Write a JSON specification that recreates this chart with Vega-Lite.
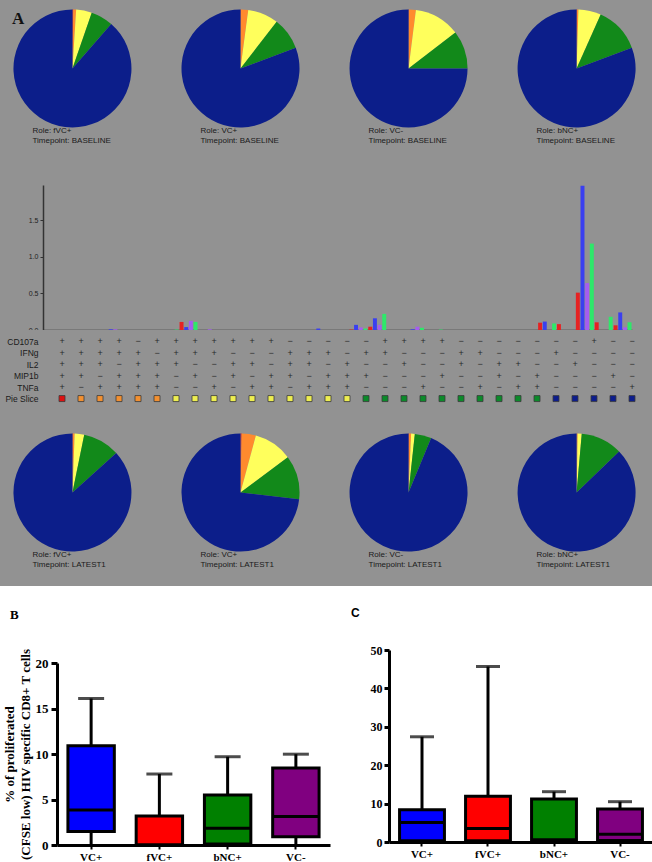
{
  "$schema": "https://vega.github.io/schema/vega-lite/v6.json",
  "padding": 0,
  "background": "#ffffff",
  "config": {"view": {"stroke": null}, "font": "Liberation Sans"},
  "resolve": {"scale": {"color": "independent"}},
  "datasets": {
    "pies": [
      {"tp": "BASELINE", "role": "fVC+", "slice": "five", "k": 1, "pct": 0.2},
      {"tp": "BASELINE", "role": "fVC+", "slice": "four", "k": 2, "pct": 0.8},
      {"tp": "BASELINE", "role": "fVC+", "slice": "three", "k": 3, "pct": 4.3},
      {"tp": "BASELINE", "role": "fVC+", "slice": "two", "k": 4, "pct": 6.1},
      {"tp": "BASELINE", "role": "fVC+", "slice": "one", "k": 5, "pct": 88.6},
      {"tp": "BASELINE", "role": "VC+", "slice": "five", "k": 1, "pct": 0.1},
      {"tp": "BASELINE", "role": "VC+", "slice": "four", "k": 2, "pct": 2.0},
      {"tp": "BASELINE", "role": "VC+", "slice": "three", "k": 3, "pct": 8.4},
      {"tp": "BASELINE", "role": "VC+", "slice": "two", "k": 4, "pct": 8.8},
      {"tp": "BASELINE", "role": "VC+", "slice": "one", "k": 5, "pct": 80.7},
      {"tp": "BASELINE", "role": "VC-", "slice": "five", "k": 1, "pct": 0.1},
      {"tp": "BASELINE", "role": "VC-", "slice": "four", "k": 2, "pct": 1.9},
      {"tp": "BASELINE", "role": "VC-", "slice": "three", "k": 3, "pct": 12.6},
      {"tp": "BASELINE", "role": "VC-", "slice": "two", "k": 4, "pct": 10.4},
      {"tp": "BASELINE", "role": "VC-", "slice": "one", "k": 5, "pct": 75.0},
      {"tp": "BASELINE", "role": "bNC+", "slice": "five", "k": 1, "pct": 0.1},
      {"tp": "BASELINE", "role": "bNC+", "slice": "four", "k": 2, "pct": 0.4},
      {"tp": "BASELINE", "role": "bNC+", "slice": "three", "k": 3, "pct": 6.2},
      {"tp": "BASELINE", "role": "bNC+", "slice": "two", "k": 4, "pct": 12.6},
      {"tp": "BASELINE", "role": "bNC+", "slice": "one", "k": 5, "pct": 80.7},
      {"tp": "LATEST1", "role": "fVC+", "slice": "five", "k": 1, "pct": 0.1},
      {"tp": "LATEST1", "role": "fVC+", "slice": "four", "k": 2, "pct": 0.5},
      {"tp": "LATEST1", "role": "fVC+", "slice": "three", "k": 3, "pct": 2.6},
      {"tp": "LATEST1", "role": "fVC+", "slice": "two", "k": 4, "pct": 10.1},
      {"tp": "LATEST1", "role": "fVC+", "slice": "one", "k": 5, "pct": 86.7},
      {"tp": "LATEST1", "role": "VC+", "slice": "five", "k": 1, "pct": 0.3},
      {"tp": "LATEST1", "role": "VC+", "slice": "four", "k": 2, "pct": 3.9},
      {"tp": "LATEST1", "role": "VC+", "slice": "three", "k": 3, "pct": 10.6},
      {"tp": "LATEST1", "role": "VC+", "slice": "two", "k": 4, "pct": 12.0},
      {"tp": "LATEST1", "role": "VC+", "slice": "one", "k": 5, "pct": 73.2},
      {"tp": "LATEST1", "role": "VC-", "slice": "five", "k": 1, "pct": 0.1},
      {"tp": "LATEST1", "role": "VC-", "slice": "four", "k": 2, "pct": 0.6},
      {"tp": "LATEST1", "role": "VC-", "slice": "three", "k": 3, "pct": 1.0},
      {"tp": "LATEST1", "role": "VC-", "slice": "two", "k": 4, "pct": 4.55},
      {"tp": "LATEST1", "role": "VC-", "slice": "one", "k": 5, "pct": 93.75},
      {"tp": "LATEST1", "role": "bNC+", "slice": "five", "k": 1, "pct": 0.05},
      {"tp": "LATEST1", "role": "bNC+", "slice": "four", "k": 2, "pct": 0.25},
      {"tp": "LATEST1", "role": "bNC+", "slice": "three", "k": 3, "pct": 1.1},
      {"tp": "LATEST1", "role": "bNC+", "slice": "two", "k": 4, "pct": 11.4},
      {"tp": "LATEST1", "role": "bNC+", "slice": "one", "k": 5, "pct": 87.2}
    ],
    "pieLabels": [
      {"tp": "BASELINE", "role": "fVC+", "label": "Role: fVC+\nTimepoint: BASELINE"},
      {"tp": "BASELINE", "role": "VC+", "label": "Role: VC+\nTimepoint: BASELINE"},
      {"tp": "BASELINE", "role": "VC-", "label": "Role: VC-\nTimepoint: BASELINE"},
      {"tp": "BASELINE", "role": "bNC+", "label": "Role: bNC+\nTimepoint: BASELINE"},
      {"tp": "LATEST1", "role": "fVC+", "label": "Role: fVC+\nTimepoint: LATEST1"},
      {"tp": "LATEST1", "role": "VC+", "label": "Role: VC+\nTimepoint: LATEST1"},
      {"tp": "LATEST1", "role": "VC-", "label": "Role: VC-\nTimepoint: LATEST1"},
      {"tp": "LATEST1", "role": "bNC+", "label": "Role: bNC+\nTimepoint: LATEST1"}
    ],
    "bars": [
      {"c": 4, "s": "VC+", "v": 0.01}, {"c": 4, "s": "VC-", "v": 0.01},
      {"c": 7, "s": "bNC+", "v": 0.006},
      {"c": 8, "s": "fVC+", "v": 0.11}, {"c": 8, "s": "VC+", "v": 0.04}, {"c": 8, "s": "VC-", "v": 0.125}, {"c": 8, "s": "bNC+", "v": 0.11},
      {"c": 9, "s": "VC-", "v": 0.01},
      {"c": 15, "s": "VC+", "v": 0.02},
      {"c": 17, "s": "fVC+", "v": 0.006}, {"c": 17, "s": "VC+", "v": 0.07}, {"c": 17, "s": "VC-", "v": 0.035}, {"c": 17, "s": "bNC+", "v": 0.02},
      {"c": 18, "s": "fVC+", "v": 0.045}, {"c": 18, "s": "VC+", "v": 0.16}, {"c": 18, "s": "VC-", "v": 0.07}, {"c": 18, "s": "bNC+", "v": 0.22},
      {"c": 20, "s": "VC+", "v": 0.01}, {"c": 20, "s": "VC-", "v": 0.045}, {"c": 20, "s": "bNC+", "v": 0.03},
      {"c": 21, "s": "bNC+", "v": 0.006},
      {"c": 27, "s": "fVC+", "v": 0.1}, {"c": 27, "s": "VC+", "v": 0.115}, {"c": 27, "s": "bNC+", "v": 0.09},
      {"c": 28, "s": "fVC+", "v": 0.08},
      {"c": 29, "s": "fVC+", "v": 0.51}, {"c": 29, "s": "VC+", "v": 1.97}, {"c": 29, "s": "VC-", "v": 0.64}, {"c": 29, "s": "bNC+", "v": 1.18},
      {"c": 30, "s": "fVC+", "v": 0.105}, {"c": 30, "s": "bNC+", "v": 0.18},
      {"c": 31, "s": "fVC+", "v": 0.064}, {"c": 31, "s": "VC+", "v": 0.24}, {"c": 31, "s": "VC-", "v": 0.036}, {"c": 31, "s": "bNC+", "v": 0.105}
    ],
    "table": [
      {"c": 1, "CD107a": "+", "IFNg": "+", "IL2": "+", "MIP1b": "+", "TNFa": "+", "slice": "five"},
      {"c": 2, "CD107a": "+", "IFNg": "+", "IL2": "+", "MIP1b": "+", "TNFa": "−", "slice": "four"},
      {"c": 3, "CD107a": "+", "IFNg": "+", "IL2": "+", "MIP1b": "−", "TNFa": "+", "slice": "four"},
      {"c": 4, "CD107a": "+", "IFNg": "+", "IL2": "−", "MIP1b": "+", "TNFa": "+", "slice": "four"},
      {"c": 5, "CD107a": "−", "IFNg": "+", "IL2": "+", "MIP1b": "+", "TNFa": "+", "slice": "four"},
      {"c": 6, "CD107a": "+", "IFNg": "−", "IL2": "+", "MIP1b": "+", "TNFa": "+", "slice": "four"},
      {"c": 7, "CD107a": "+", "IFNg": "+", "IL2": "+", "MIP1b": "−", "TNFa": "−", "slice": "three"},
      {"c": 8, "CD107a": "+", "IFNg": "+", "IL2": "−", "MIP1b": "+", "TNFa": "−", "slice": "three"},
      {"c": 9, "CD107a": "+", "IFNg": "+", "IL2": "−", "MIP1b": "−", "TNFa": "+", "slice": "three"},
      {"c": 10, "CD107a": "+", "IFNg": "−", "IL2": "+", "MIP1b": "+", "TNFa": "−", "slice": "three"},
      {"c": 11, "CD107a": "+", "IFNg": "−", "IL2": "+", "MIP1b": "−", "TNFa": "+", "slice": "three"},
      {"c": 12, "CD107a": "+", "IFNg": "−", "IL2": "−", "MIP1b": "+", "TNFa": "+", "slice": "three"},
      {"c": 13, "CD107a": "−", "IFNg": "+", "IL2": "+", "MIP1b": "+", "TNFa": "−", "slice": "three"},
      {"c": 14, "CD107a": "−", "IFNg": "+", "IL2": "+", "MIP1b": "−", "TNFa": "+", "slice": "three"},
      {"c": 15, "CD107a": "−", "IFNg": "+", "IL2": "−", "MIP1b": "+", "TNFa": "+", "slice": "three"},
      {"c": 16, "CD107a": "−", "IFNg": "−", "IL2": "+", "MIP1b": "+", "TNFa": "+", "slice": "three"},
      {"c": 17, "CD107a": "−", "IFNg": "+", "IL2": "−", "MIP1b": "+", "TNFa": "−", "slice": "two"},
      {"c": 18, "CD107a": "+", "IFNg": "+", "IL2": "−", "MIP1b": "−", "TNFa": "−", "slice": "two"},
      {"c": 19, "CD107a": "+", "IFNg": "−", "IL2": "+", "MIP1b": "−", "TNFa": "−", "slice": "two"},
      {"c": 20, "CD107a": "+", "IFNg": "−", "IL2": "−", "MIP1b": "−", "TNFa": "+", "slice": "two"},
      {"c": 21, "CD107a": "+", "IFNg": "−", "IL2": "−", "MIP1b": "+", "TNFa": "−", "slice": "two"},
      {"c": 22, "CD107a": "−", "IFNg": "+", "IL2": "+", "MIP1b": "−", "TNFa": "−", "slice": "two"},
      {"c": 23, "CD107a": "−", "IFNg": "+", "IL2": "−", "MIP1b": "−", "TNFa": "+", "slice": "two"},
      {"c": 24, "CD107a": "−", "IFNg": "−", "IL2": "+", "MIP1b": "+", "TNFa": "−", "slice": "two"},
      {"c": 25, "CD107a": "−", "IFNg": "−", "IL2": "+", "MIP1b": "−", "TNFa": "+", "slice": "two"},
      {"c": 26, "CD107a": "−", "IFNg": "−", "IL2": "−", "MIP1b": "+", "TNFa": "+", "slice": "two"},
      {"c": 27, "CD107a": "−", "IFNg": "+", "IL2": "−", "MIP1b": "−", "TNFa": "−", "slice": "one"},
      {"c": 28, "CD107a": "−", "IFNg": "−", "IL2": "+", "MIP1b": "−", "TNFa": "−", "slice": "one"},
      {"c": 29, "CD107a": "+", "IFNg": "−", "IL2": "−", "MIP1b": "−", "TNFa": "−", "slice": "one"},
      {"c": 30, "CD107a": "−", "IFNg": "−", "IL2": "−", "MIP1b": "+", "TNFa": "−", "slice": "one"},
      {"c": 31, "CD107a": "−", "IFNg": "−", "IL2": "−", "MIP1b": "−", "TNFa": "+", "slice": "one"}
    ],
    "boxB": [
      {"g": "VC+", "min": 0, "q1": 1.47, "med": 3.85, "q3": 10.9, "max": 16.1},
      {"g": "fVC+", "min": 0, "q1": 0, "med": 0, "q3": 3.2, "max": 7.8},
      {"g": "bNC+", "min": 0, "q1": 0.1, "med": 1.83, "q3": 5.5, "max": 9.7},
      {"g": "VC-", "min": 0, "q1": 0.92, "med": 3.12, "q3": 8.45, "max": 9.98}
    ],
    "boxC": [
      {"g": "VC+", "min": 0, "q1": 0.3, "med": 5.1, "q3": 8.4, "max": 27.4},
      {"g": "fVC+", "min": 0, "q1": 0.3, "med": 3.5, "q3": 11.9, "max": 45.7},
      {"g": "bNC+", "min": 0, "q1": 0.3, "med": 0.6, "q3": 11.2, "max": 13.1},
      {"g": "VC-", "min": 0, "q1": 0.4, "med": 2.0, "q3": 8.6, "max": 10.5}
    ]
  },
  "spacing": 21,
  "align": "none",
  "vconcat": [
    {
      "spacing": 0,
      "bounds": "flush",
      "resolve": {"scale": {"color": "independent"}},
      "vconcat": [
        {
          "width": 652,
          "height": 185,
          "view": {"fill": "#929292", "stroke": null},
          "title": {"text": "A", "anchor": "start", "frame": "group", "orient": "top", "offset": -41, "dx": 12, "font": "Liberation Serif", "fontSize": 17, "fontWeight": "bold", "color": "#111111", "baseline": "alphabetic"},
          "layer": [
            {
              "data": {"name": "pies"},
              "transform": [
                {"filter": "datum.tp == 'BASELINE'"},
                {"stack": "pct", "groupby": ["role"], "sort": [{"field": "k", "order": "ascending"}], "as": ["t0", "t1"]}
              ],
              "mark": {"type": "arc", "radius": 59, "strokeWidth": 0},
              "encoding": {
                "x": {"field": "role", "type": "nominal", "scale": {"type": "point", "domain": ["fVC+", "VC+", "VC-", "bNC+"], "padding": 0.44, "align": 0.49}, "axis": null},
                "y": {"field": "tp", "type": "nominal", "scale": {"type": "point", "align": 0.37}, "axis": null},
                "theta": {"field": "t0", "type": "quantitative", "stack": null, "scale": {"domain": [0, 100]}},
                "theta2": {"field": "t1"},
                "color": {"field": "slice", "type": "nominal", "scale": {"domain": ["five", "four", "three", "two", "one"], "range": ["#e01010", "#ff8a2e", "#ffff5c", "#12891a", "#0c1e8a"]}, "legend": null}
              }
            },
            {
              "data": {"name": "pieLabels"},
              "transform": [{"filter": "datum.tp == 'BASELINE'"}],
              "mark": {"type": "text", "align": "left", "baseline": "top", "dx": -40, "dy": 59, "fontSize": 8, "lineHeight": 10, "lineBreak": "\n", "color": "#1a1a1a", "font": "Liberation Sans"},
              "encoding": {
                "x": {"field": "role", "type": "nominal", "scale": {"type": "point", "domain": ["fVC+", "VC+", "VC-", "bNC+"], "padding": 0.44, "align": 0.49}, "axis": null},
                "y": {"field": "tp", "type": "nominal", "scale": {"type": "point", "align": 0.37}, "axis": null},
                "text": {"field": "label"}
              }
            }
          ]
        },
        {
          "width": 652,
          "height": 145,
          "view": {"fill": "#929292", "stroke": null},
          "data": {"name": "bars"},
          "mark": {"type": "bar"},
          "encoding": {
            "x": {"field": "c", "type": "ordinal", "scale": {"domain": [1,2,3,4,5,6,7,8,9,10,11,12,13,14,15,16,17,18,19,20,21,22,23,24,25,26,27,28,29,30,31], "range": [43, 632], "paddingInner": 0, "paddingOuter": 0.106, "align": 1}, "axis": {"labels": false, "title": null, "bandPosition": 1, "tickSize": 3, "tickColor": "#333333", "tickWidth": 1.2, "domainColor": "#333333", "domainWidth": 1.5}},
            "xOffset": {"field": "s", "type": "nominal", "scale": {"domain": ["fVC+", "VC+", "VC-", "bNC+"], "paddingInner": 0.15, "paddingOuter": 0.1}},
            "y": {"field": "v", "type": "quantitative", "scale": {"domain": [0, 1.98], "nice": false}, "axis": {"values": [0, 0.5, 1, 1.5], "format": ".1f", "offset": -43, "grid": false, "title": null, "labelFontSize": 7, "labelColor": "#222222", "tickSize": 3, "tickColor": "#333333", "domainColor": "#333333", "domainWidth": 1.5, "labelPadding": 2}},
            "color": {"field": "s", "type": "nominal", "scale": {"domain": ["fVC+", "VC+", "VC-", "bNC+"], "range": ["#e62222", "#3a3ff0", "#a65cf0", "#2ee86a"]}, "legend": null}
          }
        },
        {
          "width": 652,
          "height": 80,
          "view": {"fill": "#929292", "stroke": null},
          "data": {"name": "table"},
          "layer": [
            {
              "transform": [{"fold": ["CD107a", "IFNg", "IL2", "MIP1b", "TNFa"], "as": ["marker", "sign"]}],
              "mark": {"type": "text", "fontSize": 9, "color": "#2a2a2a"},
              "encoding": {
                "x": {"field": "c", "type": "ordinal", "scale": {"domain": [1,2,3,4,5,6,7,8,9,10,11,12,13,14,15,16,17,18,19,20,21,22,23,24,25,26,27,28,29,30,31], "range": [43, 632], "paddingInner": 0, "paddingOuter": 0.106, "align": 1}, "axis": null},
                "y": {"field": "marker", "type": "nominal", "scale": {"type": "point", "domain": ["CD107a", "IFNg", "IL2", "MIP1b", "TNFa", "Pie Slice"], "padding": 1.07}, "axis": {"orient": "left", "offset": -40, "domain": false, "ticks": false, "title": null, "labelFontSize": 8.5, "labelColor": "#1a1a1a", "labelPadding": 2}},
                "text": {"field": "sign"}
              }
            },
            {
              "mark": {"type": "square", "size": 36, "opacity": 1, "stroke": "#3a3a3a", "strokeWidth": 0.8},
              "encoding": {
                "x": {"field": "c", "type": "ordinal", "scale": {"domain": [1,2,3,4,5,6,7,8,9,10,11,12,13,14,15,16,17,18,19,20,21,22,23,24,25,26,27,28,29,30,31], "range": [43, 632], "paddingInner": 0, "paddingOuter": 0.106, "align": 1}, "axis": null},
                "y": {"datum": "Pie Slice", "type": "nominal"},
                "color": {"field": "slice", "type": "nominal", "scale": {"domain": ["five", "four", "three", "two", "one"], "range": ["#dd1111", "#f39030", "#eeee50", "#0b8a2a", "#0d1d8c"]}, "legend": null}
              }
            }
          ]
        },
        {
          "width": 652,
          "height": 176,
          "view": {"fill": "#929292", "stroke": null},
          "layer": [
            {
              "data": {"name": "pies"},
              "transform": [
                {"filter": "datum.tp == 'LATEST1'"},
                {"stack": "pct", "groupby": ["role"], "sort": [{"field": "k", "order": "ascending"}], "as": ["t0", "t1"]}
              ],
              "mark": {"type": "arc", "radius": 59, "strokeWidth": 0},
              "encoding": {
                "x": {"field": "role", "type": "nominal", "scale": {"type": "point", "domain": ["fVC+", "VC+", "VC-", "bNC+"], "padding": 0.44, "align": 0.49}, "axis": null},
                "y": {"field": "tp", "type": "nominal", "scale": {"type": "point", "align": 0.469}, "axis": null},
                "theta": {"field": "t0", "type": "quantitative", "stack": null, "scale": {"domain": [0, 100]}},
                "theta2": {"field": "t1"},
                "color": {"field": "slice", "type": "nominal", "scale": {"domain": ["five", "four", "three", "two", "one"], "range": ["#e01010", "#ff8a2e", "#ffff5c", "#12891a", "#0c1e8a"]}, "legend": null}
              }
            },
            {
              "data": {"name": "pieLabels"},
              "transform": [{"filter": "datum.tp == 'LATEST1'"}],
              "mark": {"type": "text", "align": "left", "baseline": "top", "dx": -40, "dy": 58, "fontSize": 8, "lineHeight": 10, "lineBreak": "\n", "color": "#1a1a1a", "font": "Liberation Sans"},
              "encoding": {
                "x": {"field": "role", "type": "nominal", "scale": {"type": "point", "domain": ["fVC+", "VC+", "VC-", "bNC+"], "padding": 0.44, "align": 0.49}, "axis": null},
                "y": {"field": "tp", "type": "nominal", "scale": {"type": "point", "align": 0.469}, "axis": null},
                "text": {"field": "label"}
              }
            }
          ]
        }
      ]
    },
    {
      "spacing": 21,
      "resolve": {"scale": {"color": "independent"}},
      "hconcat": [
        {
          "width": 330,
          "height": 195,
          "title": {"text": "B", "anchor": "start", "frame": "group", "offset": 26, "dx": 10, "font": "Liberation Serif", "fontSize": 13, "fontWeight": "bold", "color": "#000000"},
          "data": {"name": "boxB"},
          "encoding": {
            "x": {"field": "g", "type": "nominal", "scale": {"domain": ["VC+", "fVC+", "bNC+", "VC-"], "range": [57, 330], "paddingInner": 0.32, "paddingOuter": 0.16}, "axis": {"title": null, "labelAngle": 0, "labelFont": "Liberation Serif", "labelFontWeight": "bold", "labelFontSize": 11, "labelColor": "#000000", "domainColor": "#000000", "domainWidth": 3, "tickColor": "#000000", "tickWidth": 2, "tickSize": 4, "labelPadding": 2}}
          },
          "layer": [
            {
              "mark": {"type": "rule", "color": "#000000", "strokeWidth": 3},
              "encoding": {
                "y": {"field": "min", "type": "quantitative", "scale": {"domain": [0, 20], "range": [195, 13], "nice": false}, "axis": {"offset": -57, "values": [0, 5, 10, 15, 20], "grid": false, "title": ["% of proliferated", "(CFSE low) HIV specific CD8+ T cells"], "titleFont": "Liberation Serif", "titleFontSize": 13, "titleFontWeight": "bold", "titleColor": "#000000", "titlePadding": 3, "titleLineHeight": 16, "labelFont": "Liberation Serif", "labelFontWeight": "bold", "labelFontSize": 13, "labelColor": "#000000", "domainColor": "#000000", "domainWidth": 3, "tickColor": "#000000", "tickWidth": 3, "tickSize": 6, "labelPadding": 3}},
                "y2": {"field": "max"}
              }
            },
            {
              "mark": {"type": "bar", "stroke": "#000000", "strokeWidth": 3},
              "encoding": {
                "y": {"field": "q1", "type": "quantitative", "scale": {"domain": [0, 20], "range": [195, 13], "nice": false}, "axis": {"offset": -57, "values": [0, 5, 10, 15, 20], "grid": false, "title": ["% of proliferated", "(CFSE low) HIV specific CD8+ T cells"], "titleFont": "Liberation Serif", "titleFontSize": 13, "titleFontWeight": "bold", "titleColor": "#000000", "titlePadding": 3, "titleLineHeight": 16, "labelFont": "Liberation Serif", "labelFontWeight": "bold", "labelFontSize": 13, "labelColor": "#000000", "domainColor": "#000000", "domainWidth": 3, "tickColor": "#000000", "tickWidth": 3, "tickSize": 6, "labelPadding": 3}},
                "y2": {"field": "q3"},
                "color": {"field": "g", "type": "nominal", "scale": {"domain": ["VC+", "fVC+", "bNC+", "VC-"], "range": ["#0000ff", "#ff0000", "#008000", "#800080"]}, "legend": null}
              }
            },
            {
              "mark": {"type": "bar", "color": "#000000", "stroke": "#000000", "strokeWidth": 3},
              "encoding": {
                "y": {"field": "med", "type": "quantitative", "scale": {"domain": [0, 20], "range": [195, 13], "nice": false}, "axis": {"offset": -57, "values": [0, 5, 10, 15, 20], "grid": false, "title": ["% of proliferated", "(CFSE low) HIV specific CD8+ T cells"], "titleFont": "Liberation Serif", "titleFontSize": 13, "titleFontWeight": "bold", "titleColor": "#000000", "titlePadding": 3, "titleLineHeight": 16, "labelFont": "Liberation Serif", "labelFontWeight": "bold", "labelFontSize": 13, "labelColor": "#000000", "domainColor": "#000000", "domainWidth": 3, "tickColor": "#000000", "tickWidth": 3, "tickSize": 6, "labelPadding": 3}},
                "y2": {"field": "med"}
              }
            },
            {
              "mark": {"type": "tick", "color": "#000000", "thickness": 3, "size": 26},
              "encoding": {
                "y": {"field": "max", "type": "quantitative", "scale": {"domain": [0, 20], "range": [195, 13], "nice": false}, "axis": {"offset": -57, "values": [0, 5, 10, 15, 20], "grid": false, "title": ["% of proliferated", "(CFSE low) HIV specific CD8+ T cells"], "titleFont": "Liberation Serif", "titleFontSize": 13, "titleFontWeight": "bold", "titleColor": "#000000", "titlePadding": 3, "titleLineHeight": 16, "labelFont": "Liberation Serif", "labelFontWeight": "bold", "labelFontSize": 13, "labelColor": "#000000", "domainColor": "#000000", "domainWidth": 3, "tickColor": "#000000", "tickWidth": 3, "tickSize": 6, "labelPadding": 3}}
              }
            }
          ]
        },
        {
          "width": 264,
          "height": 192,
          "title": {"text": "C", "anchor": "start", "frame": "group", "offset": 24, "dx": -38, "font": "Liberation Sans", "fontSize": 12, "fontWeight": "bold", "color": "#000000"},
          "data": {"name": "boxC"},
          "encoding": {
            "x": {"field": "g", "type": "nominal", "scale": {"domain": ["VC+", "fVC+", "bNC+", "VC-"], "paddingInner": 0.32, "paddingOuter": 0.16}, "axis": {"title": null, "labelAngle": 0, "labelFont": "Liberation Serif", "labelFontWeight": "bold", "labelFontSize": 11, "labelColor": "#000000", "domainColor": "#000000", "domainWidth": 3, "tickColor": "#000000", "tickWidth": 2, "tickSize": 4, "labelPadding": 2}}
          },
          "layer": [
            {
              "mark": {"type": "rule", "color": "#000000", "strokeWidth": 3},
              "encoding": {
                "y": {"field": "min", "type": "quantitative", "scale": {"domain": [0, 50], "nice": false}, "axis": {"values": [0, 10, 20, 30, 40, 50], "grid": false, "title": null, "labelFont": "Liberation Serif", "labelFontWeight": "bold", "labelFontSize": 12, "labelColor": "#000000", "domainColor": "#000000", "domainWidth": 3, "tickColor": "#000000", "tickWidth": 3, "tickSize": 5, "labelPadding": 2}},
                "y2": {"field": "max"}
              }
            },
            {
              "mark": {"type": "bar", "stroke": "#000000", "strokeWidth": 3},
              "encoding": {
                "y": {"field": "q1", "type": "quantitative", "scale": {"domain": [0, 50], "nice": false}, "axis": {"values": [0, 10, 20, 30, 40, 50], "grid": false, "title": null, "labelFont": "Liberation Serif", "labelFontWeight": "bold", "labelFontSize": 12, "labelColor": "#000000", "domainColor": "#000000", "domainWidth": 3, "tickColor": "#000000", "tickWidth": 3, "tickSize": 5, "labelPadding": 2}},
                "y2": {"field": "q3"},
                "color": {"field": "g", "type": "nominal", "scale": {"domain": ["VC+", "fVC+", "bNC+", "VC-"], "range": ["#0000ff", "#ff0000", "#008000", "#800080"]}, "legend": null}
              }
            },
            {
              "mark": {"type": "bar", "color": "#000000", "stroke": "#000000", "strokeWidth": 3},
              "encoding": {
                "y": {"field": "med", "type": "quantitative", "scale": {"domain": [0, 50], "nice": false}, "axis": {"values": [0, 10, 20, 30, 40, 50], "grid": false, "title": null, "labelFont": "Liberation Serif", "labelFontWeight": "bold", "labelFontSize": 12, "labelColor": "#000000", "domainColor": "#000000", "domainWidth": 3, "tickColor": "#000000", "tickWidth": 3, "tickSize": 5, "labelPadding": 2}},
                "y2": {"field": "med"}
              }
            },
            {
              "mark": {"type": "tick", "color": "#000000", "thickness": 3, "size": 24},
              "encoding": {
                "y": {"field": "max", "type": "quantitative", "scale": {"domain": [0, 50], "nice": false}, "axis": {"values": [0, 10, 20, 30, 40, 50], "grid": false, "title": null, "labelFont": "Liberation Serif", "labelFontWeight": "bold", "labelFontSize": 12, "labelColor": "#000000", "domainColor": "#000000", "domainWidth": 3, "tickColor": "#000000", "tickWidth": 3, "tickSize": 5, "labelPadding": 2}}
              }
            }
          ]
        }
      ]
    }
  ]
}
